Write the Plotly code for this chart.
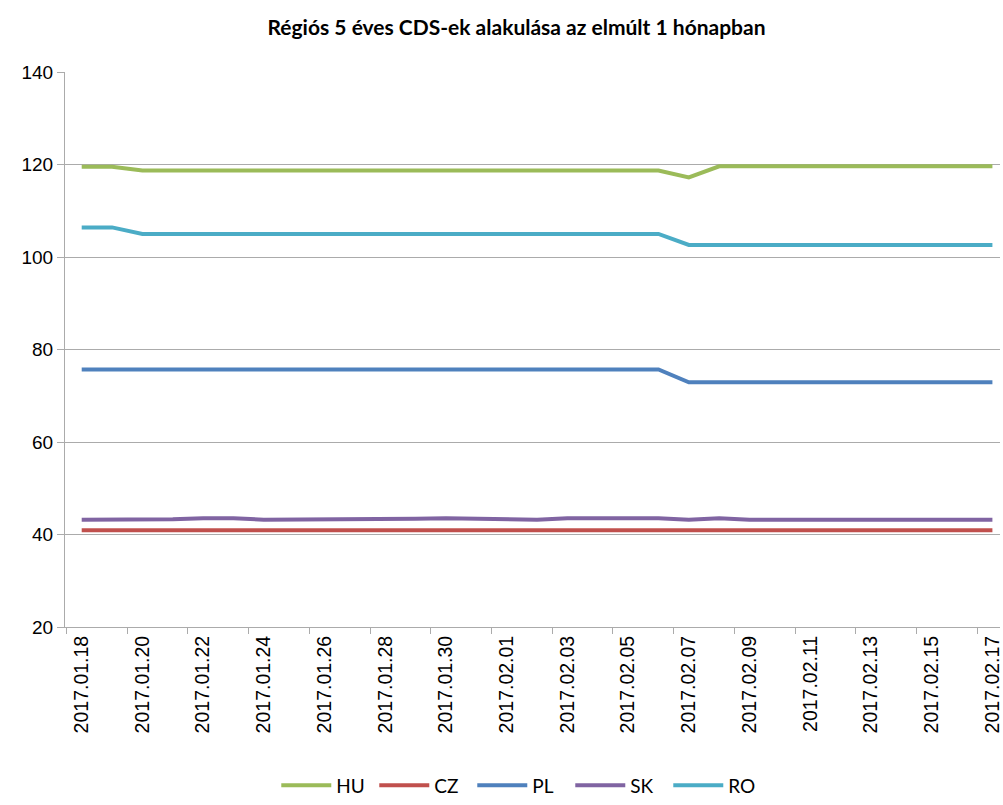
import plotly.graph_objects as go

dates = [
    "2017.01.18", "2017.01.19", "2017.01.20", "2017.01.21", "2017.01.22", "2017.01.23",
    "2017.01.24", "2017.01.25", "2017.01.26", "2017.01.27", "2017.01.28", "2017.01.29",
    "2017.01.30", "2017.01.31", "2017.02.01", "2017.02.02", "2017.02.03", "2017.02.04",
    "2017.02.05", "2017.02.06", "2017.02.07", "2017.02.08", "2017.02.09", "2017.02.10",
    "2017.02.11", "2017.02.12", "2017.02.13", "2017.02.14", "2017.02.15", "2017.02.16",
    "2017.02.17",
]

hu = [119.5, 119.5] + [118.7] * 18 + [117.2] + [119.6] * 10
cz = [40.9] * 31
pl = [75.7] * 20 + [72.9] * 11
sk = [43.2, 43.2, 43.2, 43.3, 43.5, 43.5, 43.2, 43.2, 43.2, 43.2, 43.3, 43.4,
      43.5, 43.4, 43.2, 43.2, 43.5, 43.5, 43.5, 43.5, 43.2, 43.5, 43.2, 43.2,
      43.2, 43.2, 43.2, 43.2, 43.2, 43.2, 43.2]
ro = [106.4, 106.4] + [105.0] * 18 + [102.6] * 11

series = [
    ("HU", hu, "#9BBB59"),
    ("CZ", cz, "#C0504D"),
    ("PL", pl, "#4F81BD"),
    ("SK", sk, "#8064A2"),
    ("RO", ro, "#4BACC6"),
]

title_text = "Régiós 5 éves CDS-ek alakulása az elmúlt 1 hónapban"

fig = go.Figure()
for name, vals, color in series:
    fig.add_trace(go.Scatter(
        x=dates, y=vals, name=name, mode="lines",
        line=dict(color=color, width=4),
    ))

grid = "#ABABAB"
fig.update_layout(
    width=1003, height=805,
    margin=dict(l=65, r=0, t=72, b=169),
    paper_bgcolor="white", plot_bgcolor="white",
    title=dict(text="<b>" + title_text + "</b>", x=0.515, xanchor="center",
               y=1 - 28 / 805, yanchor="middle",
               font=dict(family="Lato, Open Sans, sans-serif", size=21, color="#000000")),
    showlegend=True,
    legend=dict(orientation="h", x=0.488, xanchor="center", y=-0.2855, yanchor="middle",
                font=dict(family="Lato, Open Sans, sans-serif", size=19, color="#000000"),
                itemwidth=50, entrywidth=33, entrywidthmode="pixels",
                tracegroupgap=0, bgcolor="rgba(0,0,0,0)"),
    xaxis=dict(
        type="category", range=[-0.55, 30.25],
        tickmode="linear", tick0=0, dtick=2, tickson="boundaries",
        tickangle=-90, ticks="outside", ticklen=6, tickcolor=grid,
        showgrid=False, showline=True, linecolor=grid, linewidth=1,
        tickfont=dict(family="Liberation Sans, Arial, sans-serif", size=19.5, color="#000000"),
        zeroline=False, fixedrange=True,
    ),
    yaxis=dict(
        range=[20, 140], tickmode="linear", tick0=20, dtick=20,
        ticks="outside", ticklen=7, tickcolor=grid,
        showgrid=True, gridcolor=grid, gridwidth=1,
        showline=True, linecolor=grid, linewidth=1,
        tickfont=dict(family="Liberation Sans, Arial, sans-serif", size=19, color="#000000"),
        zeroline=False, fixedrange=True,
    ),
)

fig.write_html("out.html", config={"displayModeBar": False},
               post_script="document.body.style.margin='0px';")
